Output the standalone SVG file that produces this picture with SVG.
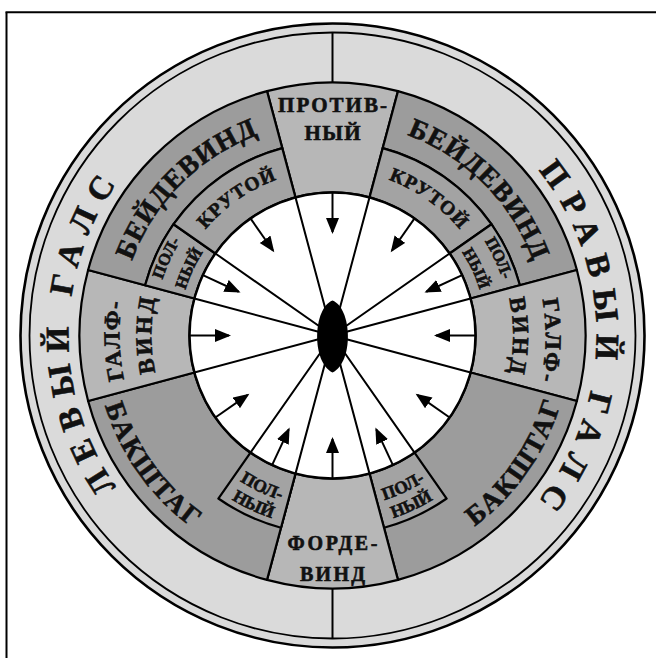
<svg xmlns="http://www.w3.org/2000/svg" width="656" height="658" viewBox="0 0 656 658">
<defs>
<style>
.ln{stroke:#000;stroke-width:2;fill:none}
.dk{fill:#9c9c9c;stroke:#000;stroke-width:2.2;stroke-linejoin:round}
.lt{fill:#b7b7b7;stroke:#000;stroke-width:2.2;stroke-linejoin:round}
.md{fill:#a3a3a3;stroke:#000;stroke-width:2.2;stroke-linejoin:round}
.t{font-family:"Liberation Serif","Times New Roman",serif;font-weight:bold;fill:#111;stroke:#111;stroke-width:0.6}
.ar{stroke:#000;stroke-width:2;fill:none;marker-end:url(#ah)}
</style>
<marker id="ah" markerUnits="userSpaceOnUse" markerWidth="18" markerHeight="14" refX="14" refY="6.5" orient="auto"><path d="M0,0 L16,6.5 L0,13 Z" fill="#000"/></marker>
<path id="pOutL" d="M200.5,564.13 A264,264 0 0 1 200.5,106.87"/>
<path id="pOutR" d="M464.5,106.87 A264,264 0 0 1 464.5,564.13"/>
<path id="pBdL" d="M125.79,390.89 A214,214 0 0 1 387.89,128.79"/>
<path id="pBdR" d="M277.11,128.79 A214,214 0 0 1 539.21,390.89"/>
<path id="pKrL" d="M167.63,321.08 A165.5,165.5 0 0 1 375.33,175.64"/>
<path id="pKrR" d="M289.67,175.64 A165.5,165.5 0 0 1 497.37,321.08"/>
<path id="pPu1L" d="M170.27,411.15 A179,179 0 0 1 286.17,162.60"/>
<path id="pPu2L" d="M192.93,400.58 A154,154 0 0 1 292.64,186.75"/>
<path id="pPu1R" d="M378.83,162.60 A179,179 0 0 1 494.73,411.15"/>
<path id="pPu2R" d="M372.36,186.75 A154,154 0 0 1 472.07,400.58"/>
<path id="pGaL" d="M230.86,522.68 A213,213 0 0 1 221.21,153.90"/>
<path id="pViL" d="M242,492.25 A181,181 0 0 1 242,178.75"/>
<path id="pGaR" d="M442.83,153.30 A213,213 0 0 1 435.12,522.15"/>
<path id="pViR" d="M422.5,178.75 A181,181 0 0 1 422.5,492.25"/>
<path id="pBkL" d="M115.92,236.80 A238,238 0 0 0 355.31,572.41"/>
<path id="pBkR" d="M311.76,572.59 A238,238 0 0 0 548.20,234.92"/>
<path id="pPl1L" d="M165.88,380.14 A172.5,172.5 0 0 0 405.40,491.84"/>
<path id="pPl2L" d="M146.56,385.32 A192.5,192.5 0 0 0 413.85,509.96"/>
<path id="pPl1R" d="M259.60,491.84 A172.5,172.5 0 0 0 499.12,380.14"/>
<path id="pPl2R" d="M251.15,509.96 A192.5,192.5 0 0 0 518.44,385.32"/>
</defs>
<rect width="656" height="658" fill="#fff"/>
<g id="frame">
<line x1="6.5" y1="12.3" x2="6.5" y2="658" class="ln"/>
<line x1="5.5" y1="12.3" x2="656" y2="12.3" class="ln"/>
</g>
<g id="ring-tack">
<circle cx="332.5" cy="335.5" r="312" fill="#dadada" stroke="#000" stroke-width="2.6"/>
<circle cx="332.5" cy="335.5" r="303" fill="none" stroke="#000" stroke-width="1.8"/>
<line x1="332.5" y1="82.5" x2="332.5" y2="32.5" class="ln"/>
<line x1="332.5" y1="588.5" x2="332.5" y2="638.5" class="ln"/>
<text class="t" font-size="33"><textPath href="#pOutL" startOffset="50%" text-anchor="middle" textLength="322" lengthAdjust="spacing">ЛЕВЫЙ ГАЛС</textPath></text>
<text class="t" font-size="33"><textPath href="#pOutR" startOffset="50%" text-anchor="middle" textLength="357" lengthAdjust="spacing">ПРАВЫЙ ГАЛС</textPath></text>
</g>
<g id="sector-protivny">
<path class="lt" d="M267.02,91.12 A253,253 0 0 1 397.98,91.12 L369.51,197.37 A143,143 0 0 0 295.49,197.37 Z"/>
<text class="t" font-size="21" x="332.5" y="112" text-anchor="middle" textLength="109" lengthAdjust="spacing">ПРОТИВ-</text>
<text class="t" font-size="21" x="332.5" y="139.5" text-anchor="middle" textLength="56" lengthAdjust="spacing">НЫЙ</text>
</g>
<g id="sector-beydewind-r">
<path class="dk" d="M397.98,91.12 A253,253 0 0 1 576.88,270.02 L519.89,285.29 A194,194 0 0 0 382.71,148.11 Z"/>
<text class="t" font-size="27.5"><textPath href="#pBdR" startOffset="50%" text-anchor="middle" textLength="184" lengthAdjust="spacing">БЕЙДЕВИНД</textPath></text>
</g>
<g id="sector-krutoy-r">
<path class="md" d="M382.71,148.11 A194,194 0 0 1 491.42,224.23 L449.64,253.48 A143,143 0 0 0 369.51,197.37 Z"/>
<text class="t" font-size="19.5"><textPath href="#pKrR" startOffset="50%" text-anchor="middle" textLength="88" lengthAdjust="spacing">КРУТОЙ</textPath></text>
</g>
<g id="sector-polny-ur">
<path class="md" d="M491.42,224.23 A194,194 0 0 1 519.89,285.29 L470.63,298.49 A143,143 0 0 0 449.64,253.48 Z"/>
<text class="t" font-size="16.5"><textPath href="#pPu1R" startOffset="50%" text-anchor="middle">ПОЛ-</textPath></text>
<text class="t" font-size="16.5"><textPath href="#pPu2R" startOffset="50%" text-anchor="middle">НЫЙ</textPath></text>
</g>
<g id="sector-galfwind-r">
<path class="lt" d="M576.88,270.02 A253,253 0 0 1 576.88,400.98 L470.63,372.51 A143,143 0 0 0 470.63,298.49 Z"/>
<text class="t" font-size="23"><textPath href="#pGaR" startOffset="50%" text-anchor="middle" textLength="82" lengthAdjust="spacing">ГАЛФ-</textPath></text>
<text class="t" font-size="23"><textPath href="#pViR" startOffset="50%" text-anchor="middle" textLength="75" lengthAdjust="spacing">ВИНД</textPath></text>
</g>
<g id="sector-bakshtag-r">
<path class="dk" d="M576.88,400.98 A253,253 0 0 1 397.98,579.88 L369.51,473.63 A143,143 0 0 0 470.63,372.51 Z"/>
<text class="t" font-size="27.5"><textPath href="#pBkR" startOffset="50%" text-anchor="middle" textLength="153" lengthAdjust="spacing">БАКШТАГ</textPath></text>
</g>
<g id="sector-polny-lr">
<path class="md" d="M414.52,452.64 L446.64,498.51 A199,199 0 0 1 384.01,527.72 L369.51,473.63 A143,143 0 0 0 414.52,452.64 Z"/>
<text class="t" font-size="17.5"><textPath href="#pPl1R" startOffset="50%" text-anchor="middle">ПОЛ-</textPath></text>
<text class="t" font-size="17.5"><textPath href="#pPl2R" startOffset="50%" text-anchor="middle">НЫЙ</textPath></text>
</g>
<g id="sector-fordewind">
<path class="lt" d="M397.98,579.88 A253,253 0 0 1 267.02,579.88 L295.49,473.63 A143,143 0 0 0 369.51,473.63 Z"/>
<text class="t" font-size="20" x="332.5" y="550" text-anchor="middle" textLength="90" lengthAdjust="spacing">ФОРДЕ-</text>
<text class="t" font-size="20" x="332.5" y="580.5" text-anchor="middle" textLength="65" lengthAdjust="spacing">ВИНД</text>
</g>
<g id="sector-bakshtag-l">
<path class="dk" d="M267.02,579.88 A253,253 0 0 1 88.12,400.98 L194.37,372.51 A143,143 0 0 0 295.49,473.63 Z"/>
<text class="t" font-size="27.5"><textPath href="#pBkL" startOffset="50%" text-anchor="middle" textLength="153" lengthAdjust="spacing">БАКШТАГ</textPath></text>
</g>
<g id="sector-polny-ll">
<path class="md" d="M295.49,473.63 L280.99,527.72 A199,199 0 0 1 218.36,498.51 L250.48,452.64 A143,143 0 0 0 295.49,473.63 Z"/>
<text class="t" font-size="17.5"><textPath href="#pPl1L" startOffset="50%" text-anchor="middle">ПОЛ-</textPath></text>
<text class="t" font-size="17.5"><textPath href="#pPl2L" startOffset="50%" text-anchor="middle">НЫЙ</textPath></text>
</g>
<g id="sector-galfwind-l">
<path class="lt" d="M88.12,400.98 A253,253 0 0 1 88.12,270.02 L194.37,298.49 A143,143 0 0 0 194.37,372.51 Z"/>
<text class="t" font-size="23"><textPath href="#pGaL" startOffset="50%" text-anchor="middle" textLength="78" lengthAdjust="spacing">ГАЛФ-</textPath></text>
<text class="t" font-size="23"><textPath href="#pViL" startOffset="50%" text-anchor="middle" textLength="75" lengthAdjust="spacing">ВИНД</textPath></text>
</g>
<g id="sector-beydewind-l">
<path class="dk" d="M88.12,270.02 A253,253 0 0 1 267.02,91.12 L282.29,148.11 A194,194 0 0 0 145.11,285.29 Z"/>
<text class="t" font-size="27.5"><textPath href="#pBdL" startOffset="50%" text-anchor="middle" textLength="184" lengthAdjust="spacing">БЕЙДЕВИНД</textPath></text>
</g>
<g id="sector-polny-ul">
<path class="md" d="M145.11,285.29 A194,194 0 0 1 173.58,224.23 L215.36,253.48 A143,143 0 0 0 194.37,298.49 Z"/>
<text class="t" font-size="16.5"><textPath href="#pPu1L" startOffset="50%" text-anchor="middle">ПОЛ-</textPath></text>
<text class="t" font-size="16.5"><textPath href="#pPu2L" startOffset="50%" text-anchor="middle">НЫЙ</textPath></text>
</g>
<g id="sector-krutoy-l">
<path class="md" d="M173.58,224.23 A194,194 0 0 1 282.29,148.11 L295.49,197.37 A143,143 0 0 0 215.36,253.48 Z"/>
<text class="t" font-size="19.5"><textPath href="#pKrL" startOffset="50%" text-anchor="middle" textLength="88" lengthAdjust="spacing">КРУТОЙ</textPath></text>
</g>
<g id="wind-disk">
<circle cx="332.5" cy="335.5" r="143" fill="#fff" stroke="#000" stroke-width="2.5"/>
</g>
<g id="connectors">
<path class="ln" d="M332.5,335.5 L295.49,197.37 M332.5,335.5 L369.51,197.37 M332.5,335.5 L449.64,253.48 M332.5,335.5 L215.36,253.48 M332.5,335.5 L470.63,298.49 M332.5,335.5 L194.37,298.49 M332.5,335.5 L470.63,372.51 M332.5,335.5 L194.37,372.51 M332.5,335.5 L414.52,452.64 M332.5,335.5 L250.48,452.64 M332.5,335.5 L369.51,473.63 M332.5,335.5 L295.49,473.63"/>
<line class="ar" x1="332.5" y1="192.5" x2="332.5" y2="232"/>
<line class="ar" x1="414.52" y1="218.36" x2="391.87" y2="250.72"/>
<line class="ar" x1="250.48" y1="218.36" x2="273.13" y2="250.72"/>
<line class="ar" x1="462.10" y1="275.07" x2="426.30" y2="291.76"/>
<line class="ar" x1="202.90" y1="275.07" x2="238.70" y2="291.76"/>
<line class="ar" x1="475.5" y1="335.5" x2="436" y2="335.5"/>
<line class="ar" x1="189.5" y1="335.5" x2="229" y2="335.5"/>
<line class="ar" x1="449.64" y1="417.52" x2="417.28" y2="394.87"/>
<line class="ar" x1="215.36" y1="417.52" x2="247.72" y2="394.87"/>
<line class="ar" x1="392.93" y1="465.10" x2="376.24" y2="429.30"/>
<line class="ar" x1="272.07" y1="465.10" x2="288.76" y2="429.30"/>
<line class="ar" x1="332.5" y1="478.5" x2="332.5" y2="439"/>
</g>
<g id="boat">
<path d="M332.5,300.5 C352,308 354,362 332.5,372.5 C311,362 313,308 332.5,300.5 Z" fill="#000"/>
</g>
</svg>
